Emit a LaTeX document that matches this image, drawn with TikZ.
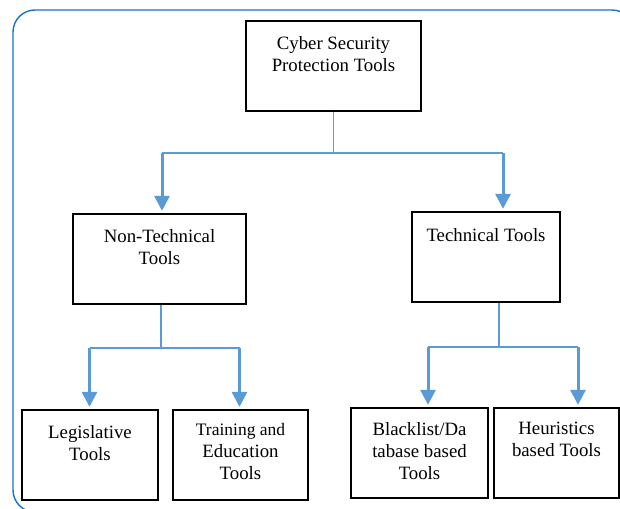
\documentclass[tikz,border=0pt]{standalone}
\usepackage{fontspec}
\setmainfont{Liberation Serif}
\usetikzlibrary{arrows.meta}
\definecolor{linkblue}{RGB}{91,155,213}
\definecolor{frameblue}{RGB}{20,115,200}

\begin{document}
\begin{tikzpicture}[x=1pt,y=-1pt,
  box/.style={draw=black, line width=1.3pt, inner sep=0pt},
  txt/.style={font=\fontsize{18.8}{22}\selectfont, align=center, anchor=north, inner sep=0pt},
  stem/.style={draw=linkblue, line width=1.2pt},
  bar/.style={draw=linkblue, line width=2pt},
  drop/.style={draw=linkblue, line width=3pt, shorten >=2.5pt,
    -{Triangle[length=15pt,width=15pt]}},
]
\useasboundingbox (0,0) rectangle (620,508);

% outer frame, running off the right and bottom edges
\begin{scope}
  \clip (0,0) rectangle (620,508);
  \draw[frameblue, line width=1.4pt, rounded corners=22pt] (13,10) rectangle (634,512);
\end{scope}

% boxes
\node[box, minimum width=175pt, minimum height=90pt] (root)  at (333.5,66) {};
\node[box, minimum width=173pt, minimum height=90pt] (ntech) at (159.5,259) {};
\node[box, minimum width=148pt, minimum height=90pt] (tech)  at (486,257) {};
\node[box, minimum width=136pt, minimum height=90pt] (legis) at (90,455) {};
\node[box, minimum width=135pt, minimum height=90pt] (train) at (240.5,455) {};
\node[box, minimum width=137pt, minimum height=90pt] (black) at (419.5,453) {};
\node[box, minimum width=125pt, minimum height=90pt] (heur)  at (556.5,453) {};

% labels, set near the top of each box
\node[txt] (troot)  at ([yshift=-15.5pt]root.north)  {Cyber Security\\Protection Tools};
\node[txt] (tntech) at ([yshift=-16pt]ntech.north) {Non-Technical\\Tools};
\node[txt] (ttech)  at ([yshift=-16.5pt]tech.north)  {Technical Tools};
\node[txt] (tlegis) at ([yshift=-15.5pt]legis.north) {\fontsize{18.8}{20.5}\selectfont Legislative\\Tools};
\node[txt] (ttrain) at ([yshift=-14pt]train.north) {\fontsize{17.5}{20}\selectfont Training and\\Education\\Tools};
\node[txt] (tblack) at ([yshift=-14.5pt]black.north) {Blacklist/Da\\tabase based\\Tools};
\node[txt] (theur)  at ([yshift=-14.5pt]heur.north)  {Heuristics\\based Tools};

% first level connectors
\coordinate (j1) at (root.south |- 0,153);
\coordinate (a1) at (162,153);
\coordinate (a2) at (503,153);
\draw[stem] (root.south) -- (j1);
\draw[stem] (a1) -- (a2);
\draw[drop] (a1) -- (a1 |- ntech.north);
\draw[drop] (a2) -- (a2 |- tech.north);

% second level, left branch
\coordinate (j2) at (161,348);
\coordinate (b1) at (89.5,348);
\coordinate (b2) at (239.5,348);
\draw[stem] (j2 |- ntech.south) -- (j2);
\draw[bar] (b1) -- (b2);
\draw[drop] (b1) -- (b1 |- legis.north);
\draw[drop] (b2) -- (b2 |- train.north);

% second level, right branch
\coordinate (j3) at (499,346.5);
\coordinate (c1) at (428,346.5);
\coordinate (c2) at (578,346.5);
\draw[stem] (j3 |- tech.south) -- (j3);
\draw[bar] (c1) -- (c2);
\draw[drop] (c1) -- (c1 |- black.north);
\draw[drop] (c2) -- (c2 |- heur.north);
\end{tikzpicture}
\end{document}
